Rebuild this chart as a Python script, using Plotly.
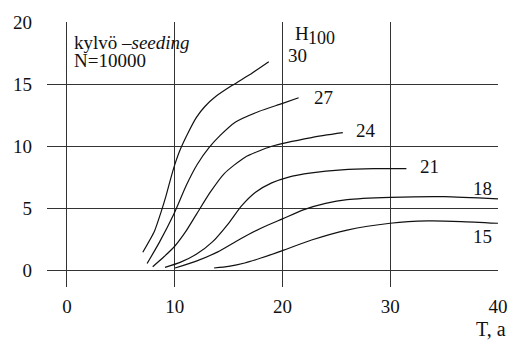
import plotly.graph_objects as go

# Data: site index H100 curves (x = T age in years, y = height in m)
h30_x = [7.04, 8.12, 8.74, 9.2, 9.66, 10.0, 10.45, 11.2, 12.0, 12.8, 13.8, 15.34, 17.2, 18.73]
h30_y = [1.47, 3.16, 4.72, 6.02, 7.5, 8.5, 9.6, 11.0, 12.3, 13.2, 14.0, 14.9, 15.9, 16.8]
h27_x = [7.44, 8.6, 9.9, 11.1, 12.1, 13.2, 14.2, 15.65, 17.8, 19.95, 21.5]
h27_y = [0.56, 2.3, 4.5, 6.9, 8.55, 9.9, 10.85, 11.95, 12.8, 13.43, 13.9]
h24_x = [7.96, 9.0, 10.0, 11.0, 12.0, 13.3, 14.6, 16.5, 19.0, 22.7, 25.6]
h24_y = [0.3, 1.1, 1.95, 3.1, 4.5, 6.3, 7.8, 9.1, 10.0, 10.7, 11.09]
h21_x = [9.1, 10.5, 12.0, 13.5, 15.0, 16.2, 17.5, 19.0, 20.5, 22.7, 25.5, 28.5, 31.5]
h21_y = [0.25, 0.65, 1.3, 2.3, 3.8, 5.2, 6.3, 7.05, 7.5, 7.85, 8.1, 8.2, 8.2]
h18_x = [10.03, 12.0, 14.0, 16.0, 18.0, 20.0, 22.0, 24.0, 26.0, 30.0, 35.0, 40.0]
h18_y = [0.2, 0.75, 1.5, 2.5, 3.4, 4.15, 4.9, 5.4, 5.7, 5.88, 5.94, 5.76]
h15_x = [13.65, 15.0, 16.5, 18.0, 20.0, 22.7, 26.0, 30.0, 33.5, 36.6, 40.0]
h15_y = [0.2, 0.33, 0.6, 1.0, 1.6, 2.45, 3.25, 3.8, 3.99, 3.94, 3.8]

x_ticks = [0, 10, 20, 30, 40]
y_ticks = [0, 5, 10, 15, 20]

curve_labels = ["30", "27", "24", "21", "18", "15"]
label_x = [20.3, 22.7, 26.6, 32.6, 37.45, 37.45]
label_y = [17.3, 13.9, 11.25, 8.4, 6.6, 2.75]

FONT = "Liberation Serif"
TXT = dict(family=FONT, size=19, color="#111")
fig = go.Figure()
for xs, ys in [(h30_x, h30_y), (h27_x, h27_y), (h24_x, h24_y),
               (h21_x, h21_y), (h18_x, h18_y), (h15_x, h15_y)]:
    fig.add_trace(go.Scatter(x=xs, y=ys, mode="lines",
                             line=dict(color="#111", width=1.2, shape="spline", smoothing=0.6),
                             hoverinfo="skip", showlegend=False))

for t, lx, ly in zip(curve_labels, label_x, label_y):
    fig.add_annotation(x=lx, y=ly, text=t, showarrow=False, xanchor="left", yanchor="middle",
                       font=TXT)

fig.add_annotation(x=0.45, y=18.35, text="kylvö –<i>seeding</i>", showarrow=False,
                   xanchor="left", yanchor="middle", font=TXT)
fig.add_annotation(x=0.45, y=16.9, text="N=10000", showarrow=False,
                   xanchor="left", yanchor="middle", font=TXT)
fig.add_annotation(x=20.95, y=19.1, text="H", showarrow=False,
                   xanchor="left", yanchor="middle", font=TXT)
fig.add_annotation(x=22.2, y=18.75, text="100", showarrow=False,
                   xanchor="left", yanchor="middle", font=dict(family=FONT, size=18, color="#111"))
fig.add_annotation(x=1.022, y=-0.207, xref="paper", yref="paper", text="T, a", showarrow=False,
                   xanchor="right", yanchor="bottom", font=dict(family=FONT, size=20, color="#111"))

fig.update_xaxes(range=[-1.85, 40], tickvals=x_ticks, showgrid=True, gridcolor="#333", gridwidth=1,
                 zeroline=False, showline=False, ticks="", ticklabelstandoff=6,
                 tickfont=TXT)
fig.update_yaxes(range=[-1.33, 20], tickvals=y_ticks, showgrid=True, gridcolor="#333", gridwidth=1,
                 zeroline=False, showline=False, ticks="", ticklabelstandoff=14,
                 tickfont=TXT)
fig.update_layout(width=520, height=344, margin=dict(l=47, r=19, t=14, b=57),
                  plot_bgcolor="white", paper_bgcolor="white")
fig.write_html("out.html")
